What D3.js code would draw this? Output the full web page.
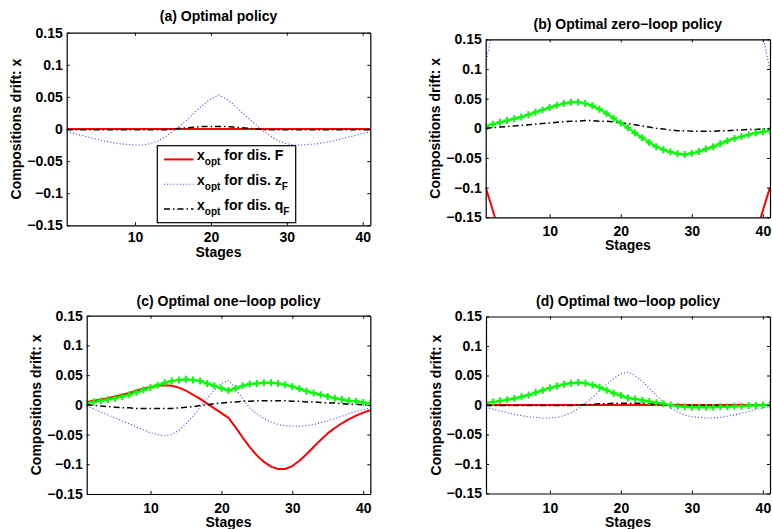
<!DOCTYPE html>
<html>
<head>
<meta charset="utf-8">
<script src="https://cdn.jsdelivr.net/npm/d3@7"></script>
<style>
  body { margin: 0; background: #fff; }
  svg { display: block; }
  text { font-family: "Liberation Sans", Arial, Helvetica, sans-serif; font-weight: bold; font-size: 14px; fill: #000; }
</style>
</head>
<body>
<svg id="fig" width="772" height="529"></svg>
<script>
// ---- data ----
const stages = [1,2,3,4,5,6,7,8,9,10,11,12,13,14,15,16,17,18,19,20,21,22,23,24,25,26,27,28,29,30,31,32,33,34,35,36,37,38,39,40,41];

const yTicks = [0.15, 0.1, 0.05, 0, -0.05, -0.1, -0.15];
const yTickLabels = ["0.15", "0.1", "0.05", "0", "\u22120.05", "\u22120.1", "\u22120.15"];
const xTicks = [10, 20, 30, 40];
const xTickLabels = ["10", "20", "30", "40"];

const panelTitles = ["(a) Optimal policy", "(b) Optimal zero\u2212loop policy", "(c) Optimal one\u2212loop policy", "(d) Optimal two\u2212loop policy"];
const xAxisTitle = "Stages";
const yAxisTitle = "Compositions drift: x";
const legendMain = ["x", "x", "x"];
const legendSub = ["opt", "opt", "opt"];
const legendText = [" for dis. ", " for dis. ", " for dis. "];
const legendVar = ["F", "z", "q"];
const legendVarSub = ["", "F", "F"];

// (a) optimal policy
const aF   = [0,0,0,0,0,0,0,0,0,0,0,0,0,0,0,0,0,0,0,0,0,0,0,0,0,0,0,0,0,0,0,0,0,0,0,0,0,0,0,0,0];
const aZF  = [-0.004,-0.007,-0.010,-0.013,-0.016,-0.019,-0.021,-0.023,-0.024,-0.025,
              -0.025,-0.023,-0.019,-0.012,-0.004,0.006,0.016,0.027,0.038,0.047,
              0.053,
              0.047,0.038,0.027,0.016,0.006,-0.004,-0.012,-0.019,-0.023,-0.025,
              -0.025,-0.024,-0.023,-0.021,-0.019,-0.016,-0.013,-0.010,-0.007,-0.004];
const aQF  = [-0.001,-0.001,-0.001,-0.001,-0.001,-0.001,-0.001,-0.001,-0.001,-0.001,-0.001,-0.001,-0.001,-0.001,
              0.000,0.001,0.002,0.003,0.004,0.004,0.004,0.004,0.003,0.002,0.001,0.000,
              -0.001,-0.001,-0.001,-0.001,-0.001,-0.001,-0.001,-0.001,-0.001,-0.001,-0.001,-0.001,-0.001,-0.001,-0.001];

// (b) optimal zero-loop policy
const bF   = [-0.100,-0.138,-0.180,-0.225,-0.265,-0.300,-0.330,-0.355,-0.375,-0.390,
              -0.400,-0.405,-0.405,-0.400,-0.390,-0.375,-0.360,-0.345,-0.335,-0.330,
              -0.330,-0.330,-0.335,-0.345,-0.360,-0.375,-0.390,-0.400,-0.405,-0.405,
              -0.400,-0.390,-0.375,-0.355,-0.330,-0.300,-0.265,-0.225,-0.180,-0.138,-0.100];
const bZF  = [0.110,0.165,0.220,0.270,0.310,0.340,0.360,0.370,0.370,0.365,
              0.355,0.345,0.335,0.325,0.318,0.312,0.308,0.305,0.303,0.302,
              0.302,0.303,0.305,0.308,0.312,0.318,0.325,0.335,0.345,0.355,
              0.365,0.370,0.365,0.350,0.330,0.305,0.275,0.245,0.205,0.155,0.098];
const bQF  = [0.000,0.001,0.002,0.003,0.004,0.005,0.006,0.007,0.008,0.009,
              0.010,0.011,0.012,0.012,0.013,0.013,0.012,0.012,0.011,0.009,
              0.008,0.006,0.004,0.002,0.000,-0.001,-0.003,-0.004,-0.004,-0.005,
              -0.005,-0.005,-0.005,-0.004,-0.004,-0.003,-0.003,-0.002,-0.002,-0.001,-0.001];
const bAll = [0.004,0.007,0.010,0.013,0.016,0.019,0.023,0.027,0.031,0.035,
              0.039,0.042,0.044,0.044,0.042,0.038,0.032,0.025,0.017,0.009,
              0.001,-0.008,-0.016,-0.024,-0.031,-0.036,-0.040,-0.043,-0.044,-0.042,
              -0.039,-0.035,-0.031,-0.026,-0.021,-0.017,-0.014,-0.011,-0.008,-0.006,-0.004];

// (c) optimal one-loop policy
const cF   = [0.005,0.007,0.009,0.011,0.014,0.017,0.020,0.024,0.027,0.030,
              0.032,0.033,0.032,0.029,0.024,0.017,0.010,0.002,-0.006,-0.014,
              -0.022,-0.038,-0.055,-0.071,-0.085,-0.096,-0.104,-0.108,-0.108,-0.103,
              -0.094,-0.083,-0.071,-0.059,-0.048,-0.039,-0.031,-0.024,-0.018,-0.013,-0.009];
const cZF  = [-0.002,-0.007,-0.012,-0.017,-0.022,-0.027,-0.032,-0.037,-0.042,-0.047,
              -0.050,-0.052,-0.050,-0.043,-0.032,-0.019,-0.004,0.011,0.025,0.036,
              0.041,0.028,0.010,-0.005,-0.015,-0.023,-0.029,-0.033,-0.035,-0.036,
              -0.036,-0.035,-0.033,-0.030,-0.027,-0.023,-0.019,-0.015,-0.011,-0.008,-0.005];
const cQF  = [0.000,-0.001,-0.002,-0.003,-0.004,-0.005,-0.005,-0.006,-0.006,-0.006,
              -0.006,-0.006,-0.006,-0.005,-0.004,-0.003,-0.001,0.000,0.002,0.003,
              0.004,0.005,0.006,0.006,0.007,0.007,0.007,0.007,0.007,0.006,
              0.006,0.005,0.005,0.004,0.003,0.003,0.002,0.001,0.001,0.000,0.000];
const cAll = [0.003,0.005,0.007,0.009,0.011,0.014,0.017,0.021,0.025,0.029,
              0.033,0.037,0.040,0.042,0.043,0.042,0.040,0.036,0.032,0.028,
              0.024,0.028,0.032,0.035,0.036,0.037,0.037,0.036,0.034,0.031,
              0.027,0.023,0.020,0.017,0.014,0.011,0.009,0.007,0.006,0.004,0.003];

// (d) optimal two-loop policy
const dF   = [0,0,0,0,0,0,0,0,0,0,0,0,0,0,0,0,0,0,0,0,0,0,0,0,0,0,0,0,0,0,0,0,0,0,0,0,0,0,0,0,0];
const dZF  = [-0.004,-0.007,-0.010,-0.013,-0.016,-0.018,-0.020,-0.021,-0.022,-0.022,
              -0.021,-0.018,-0.013,-0.006,0.003,0.013,0.024,0.035,0.045,0.053,
              0.056,
              0.050,0.040,0.028,0.016,0.005,-0.005,-0.012,-0.017,-0.020,-0.021,
              -0.022,-0.022,-0.021,-0.019,-0.017,-0.014,-0.011,-0.008,-0.005,-0.003];
const dQF  = [-0.001,-0.001,-0.001,-0.001,-0.001,-0.001,-0.001,-0.001,-0.001,-0.001,-0.001,-0.001,-0.001,
              0.000,0.001,0.001,0.002,0.002,0.003,0.003,0.003,0.003,0.003,0.002,0.001,0.000,
              -0.001,-0.001,-0.001,-0.001,-0.001,-0.001,-0.001,-0.001,-0.001,-0.001,-0.001,-0.001,-0.001,-0.001,-0.001];
const dAll = [0.004,0.005,0.007,0.009,0.011,0.014,0.017,0.021,0.025,0.029,
              0.032,0.035,0.037,0.038,0.037,0.034,0.030,0.025,0.020,0.016,
              0.012,0.010,0.008,0.006,0.004,0.002,0.000,-0.002,-0.003,-0.004,
              -0.004,-0.004,-0.004,-0.003,-0.003,-0.002,-0.002,-0.001,-0.001,0.000,0.000];

// ---- styles ----
const styleF   = { stroke: "#ff0000", width: 2,   dash: null };
const styleZF  = { stroke: "#3a3aff", width: 1.1, dash: "1,2.2" };
const styleQF  = { stroke: "#000000", width: 1.5, dash: "6,3,1.5,3" };
const styleAll = { stroke: "#00ff00", width: 2,   dash: null };

// ---- layout of the four axes ----
const layout = [
  { l: 66.7,  r: 370.3, t: 32.7,  b: 225.3, titleY: 20.7,  tickPad: 7,   stagesY: 256.5 },
  { l: 485.7, r: 770,   t: 39.3,  b: 217.3, titleY: 29.3,  tickPad: 9,   stagesY: 249.5 },
  { l: 86.7,  r: 370.3, t: 315.7, b: 494,   titleY: 305.7, tickPad: 9.5, stagesY: 526.5 },
  { l: 486,   r: 770,   t: 316.5, b: 493.5, titleY: 305.7, tickPad: 10,  stagesY: 526.5 }
];

const panels = [
  { F: aF, ZF: aZF, QF: aQF, all: null },
  { F: bF, ZF: bZF, QF: bQF, all: bAll },
  { F: cF, ZF: cZF, QF: cQF, all: cAll },
  { F: dF, ZF: dZF, QF: dQF, all: dAll }
];

const svg = d3.select("#fig");
svg.append("rect").attr("width", 772).attr("height", 529).attr("fill", "#fff");

panels.forEach((p, k) => {
  const L = layout[k];
  const x = d3.scaleLinear().domain([1, 41]).range([L.l, L.r]);
  const y = d3.scaleLinear().domain([-0.15, 0.15]).range([L.b, L.t]);
  const g = svg.append("g");

  const clipId = "clip" + k;
  svg.append("clipPath").attr("id", clipId)
    .append("rect").attr("x", L.l).attr("y", L.t).attr("width", L.r - L.l).attr("height", L.b - L.t);

  const line = d3.line().x((v, i) => x(stages[i])).y(v => y(v));
  const plot = g.append("g").attr("clip-path", `url(#${clipId})`);

  const drawSeries = (vals, st) => {
    const path = plot.append("path").datum(vals)
      .attr("d", line).attr("fill", "none")
      .attr("stroke", st.stroke).attr("stroke-width", st.width)
      .attr("stroke-linejoin", "round");
    if (st.dash) path.attr("stroke-dasharray", st.dash);
  };
  drawSeries(p.F, styleF);
  drawSeries(p.ZF, styleZF);
  drawSeries(p.QF, styleQF);
  if (p.all) {
    drawSeries(p.all, styleAll);
    const s = 3.5;
    plot.selectAll("path.plus").data(p.all).join("path")
      .attr("class", "plus")
      .attr("d", (v, i) => {
        const cx = x(stages[i]), cy = y(v);
        return `M${cx - s},${cy}H${cx + s}M${cx},${cy - s}V${cy + s}`;
      })
      .attr("stroke", styleAll.stroke).attr("stroke-width", 2).attr("fill", "none");
  }

  // axes, MATLAB-style inward ticks on all four sides
  const axL = d3.axisLeft(y).tickValues(yTicks).tickFormat((d, i) => yTickLabels[i])
    .tickSizeInner(-3).tickSizeOuter(0).tickPadding(4);
  const axR = d3.axisRight(y).tickValues(yTicks).tickFormat("")
    .tickSizeInner(-3).tickSizeOuter(0);
  const axB = d3.axisBottom(x).tickValues(xTicks).tickFormat((d, i) => xTickLabels[i])
    .tickSizeInner(-3).tickSizeOuter(0).tickPadding(L.tickPad);
  const axT = d3.axisTop(x).tickValues(xTicks).tickFormat("")
    .tickSizeInner(-3).tickSizeOuter(0);

  const styleAxis = sel => {
    sel.selectAll("path.domain").attr("stroke", "#000").attr("stroke-width", 1.2);
    sel.selectAll(".tick line").attr("stroke", "#000").attr("stroke-width", 1);
    sel.selectAll(".tick text")
      .style("font-family", '"Liberation Sans", Arial, sans-serif')
      .style("font-weight", "bold").style("font-size", "14px").attr("fill", "#000");
    sel.attr("font-family", null).attr("font-size", null);
  };
  g.append("g").attr("transform", `translate(${L.l},0)`).call(axL).call(styleAxis);
  g.append("g").attr("transform", `translate(${L.r},0)`).call(axR).call(styleAxis);
  g.append("g").attr("transform", `translate(0,${L.b})`).call(axB).call(styleAxis);
  g.append("g").attr("transform", `translate(0,${L.t})`).call(axT).call(styleAxis);

  const cx = (L.l + L.r) / 2;
  g.append("text").attr("x", cx).attr("y", L.titleY).attr("text-anchor", "middle").text(panelTitles[k]);
  g.append("text").attr("x", cx).attr("y", L.stagesY).attr("text-anchor", "middle").text(xAxisTitle);
  g.append("text")
    .attr("transform", `translate(${L.l - 45.5},${(L.t + L.b) / 2}) rotate(-90)`)
    .attr("text-anchor", "middle").text(yAxisTitle);

  // legend in the first axes
  if (k === 0) {
    const lg = g.append("g");
    lg.append("rect").attr("x", 157.3).attr("y", 145.7).attr("width", 138.4).attr("height", 77)
      .attr("fill", "#fff").attr("stroke", "#000").attr("stroke-width", 1.2);
    const rowStyles = [styleF, styleZF, styleQF];
    const rowY = [160.4, 185.2, 210];
    rowStyles.forEach((st, j) => {
      const ly = rowY[j] - 1;
      const sample = lg.append("line").attr("x1", 164).attr("x2", 193.5).attr("y1", ly).attr("y2", ly)
        .attr("stroke", st.stroke).attr("stroke-width", st.width);
      if (st.dash) sample.attr("stroke-dasharray", st.dash);
      const t = lg.append("text").attr("x", 197).attr("y", rowY[j]);
      t.append("tspan").text(legendMain[j]);
      t.append("tspan").attr("dy", 4.5).style("font-size", "10px").text(legendSub[j]);
      t.append("tspan").attr("dy", -4.5).text(legendText[j] + legendVar[j]);
      if (legendVarSub[j]) {
        t.append("tspan").attr("dy", 4.5).style("font-size", "10px").text(legendVarSub[j]);
      }
    });
  }
});
</script>
</body>
</html>
